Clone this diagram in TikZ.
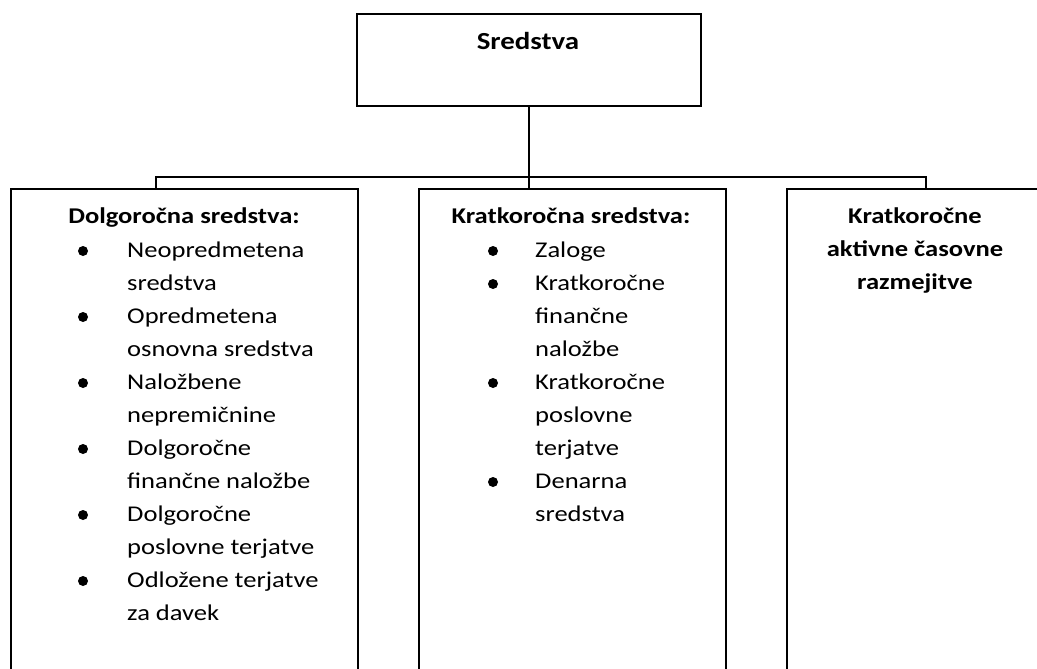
\documentclass[tikz,border=0pt]{standalone}
\usepackage{fontspec}
\setmainfont{Carlito}[FakeStretch=1.18]

\begin{document}
\begin{tikzpicture}[x=1pt,y=-1pt,
  box/.style={draw,line width=1.9pt,anchor=north west,minimum height=520pt},
  conn/.style={line width=1.5pt},
  txt/.style={anchor=base west,inner sep=0pt,font=\fontsize{22.5}{33}\selectfont},
  head/.style={anchor=base,inner sep=0pt,font=\fontsize{22.5}{33}\selectfont\bfseries}]
\useasboundingbox (0,0) rectangle (1037,669);
\clip (0,0) rectangle (1037,669);
\node[box,minimum width=344pt,minimum height=92pt] (top) at (356,13) {};
\node[box,minimum width=347pt] (dolg) at (10,188) {};
\node[box,minimum width=307pt] (krat) at (418,188) {};
\node[box,minimum width=270pt] (aktiv) at (786,188) {};
\node[head,font=\fontsize{24.5}{30}\selectfont\bfseries] (sred) at (528,50) {Sredstva};
\node[head] (dolgh) at (184,223) {Dolgoročna sredstva:};
\node[head] (krath) at (571,223) {Kratkoročna sredstva:};
\foreach \txt [count=\i from 0] in {Kratkoročne, aktivne časovne, razmejitve}
  \node[head] (aktiv\i) at (915,223+33*\i) {\txt};
\foreach \txt [count=\i from 0] in {Neopredmetena, sredstva, Opredmetena, osnovna sredstva,
    Naložbene, nepremičnine, Dolgoročne, finančne naložbe, Dolgoročne, poslovne terjatve,
    Odložene terjatve, za davek}
  \node[txt] (dolg\i) at (127,257+33*\i) {\txt};
\foreach \i in {0,2,...,10}
  \fill (83,251+33*\i) circle (5);
\foreach \txt [count=\i from 0] in {Zaloge, Kratkoročne, finančne, naložbe, Kratkoročne,
    poslovne, terjatve, Denarna, sredstva}
  \node[txt] (krat\i) at (535,257+33*\i) {\txt};
\foreach \i in {0,1,4,7}
  \fill (493,251+33*\i) circle (5);
\coordinate (jl) at (156,177);
\coordinate (jr) at (926,177);
\draw[conn] (top.south) -- (top.south |- krat.north);
\draw[conn] (dolg.north -| jl) -- (jl) -- (jr) -- (aktiv.north -| jr);
\end{tikzpicture}
\end{document}
